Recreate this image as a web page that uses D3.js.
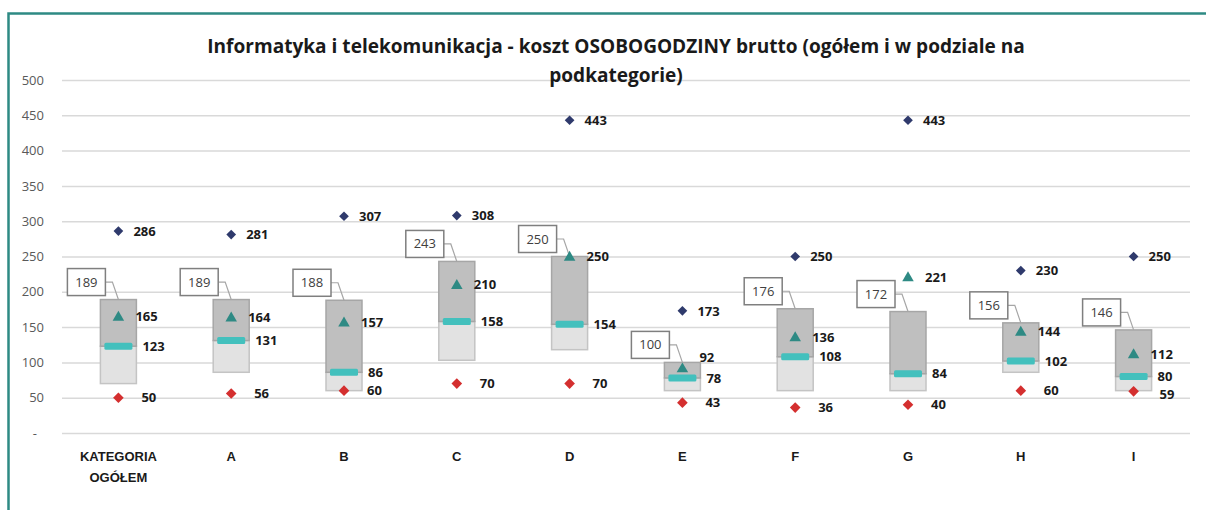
<!DOCTYPE html>
<html>
<head>
<meta charset="utf-8">
<script src="https://cdn.jsdelivr.net/npm/d3@7"></script>
<style>
  body { margin: 0; background: #fff; }
  svg { display: block; font-family: "Open Sans", sans-serif; }
</style>
</head>
<body>
<svg id="chart"></svg>
<script>
// values
const categories = ["KATEGORIA OGÓŁEM", "A", "B", "C", "D", "E", "F", "G", "H", "I"];
const maxValues = [286, 281, 307, 308, 443, 173, 250, 443, 230, 250];
const q3Values = [189, 189, 188, 243, 250, 100, 176, 172, 156, 146];
const avgValues = [165, 164, 157, 210, 250, 92, 136, 221, 144, 112];
const medianValues = [123, 131, 86, 158, 154, 78, 108, 84, 102, 80];
const q1Values = [70, 86, 60, 103, 118, 60, 60, 60, 86, 60];
const minValues = [50, 56, 60, 70, 70, 43, 36, 40, 60, 59];
const yTicks = [0, 50, 100, 150, 200, 250, 300, 350, 400, 450, 500];
const titleLines = ["Informatyka i telekomunikacja - koszt OSOBOGODZINY brutto (ogółem i w podziale na", "podkategorie)"];

const width = 1206, height = 510;
const margin = {top: 80, right: 16, bottom: 77, left: 62};

const svg = d3.select("#chart")
    .attr("width", width)
    .attr("height", height);

// frame (only top and left edge are inside the picture)
svg.append("path")
    .attr("d", `M8.5,${height} V13.5 H${width}`)
    .attr("fill", "none")
    .attr("stroke", "#2e8a84")
    .attr("stroke-width", 2.5);

const data = categories.map((c, i) => ({
    cat: c,
    max: maxValues[i],
    q3: q3Values[i],
    avg: avgValues[i],
    median: medianValues[i],
    q1: q1Values[i],
    min: minValues[i]
}));

const x = d3.scaleBand()
    .domain(categories)
    .range([margin.left, width - margin.right]);

const y = d3.scaleLinear()
    .domain([0, 500])
    .range([height - margin.bottom, margin.top]);

const cx = d => x(d.cat) + x.bandwidth() / 2;

// gridlines + y axis
const yAxis = d3.axisLeft(y)
    .tickValues(yTicks)
    .tickSize(-(width - margin.left - margin.right))
    .tickPadding(18)
    .tickFormat(d => d === 0 ? "-" : d);

const yAxisGroup = svg.append("g")
    .attr("transform", `translate(${margin.left},0)`)
    .call(yAxis);
yAxisGroup.select(".domain").remove();
yAxisGroup.selectAll(".tick line")
    .attr("stroke", "#d9d9d9")
    .attr("stroke-width", 1.5);
yAxisGroup.selectAll(".tick text")
    .attr("fill", "#595959")
    .attr("font-size", 13)
    .attr("font-family", "Open Sans, sans-serif")
    .filter(d => d === 0)
    .attr("x", -25);

// title (on top of the gridlines)
const title = svg.append("text")
    .attr("text-anchor", "middle")
    .attr("font-weight", "bold")
    .attr("font-size", 17)
    .attr("fill", "#1a1a1a");
title.selectAll("tspan")
    .data(titleLines)
    .join("tspan")
    .attr("x", 616)
    .attr("y", (d, i) => 53 + i * 29)
    .text(d => d);
// fit first line to the width it has in the original
const firstLen = title.select("tspan").node().getComputedTextLength();
title.attr("font-size", 17 * 818 / firstLen);

// x axis labels
const xAxis = d3.axisBottom(x).tickSize(0).tickPadding(0);
const xAxisGroup = svg.append("g")
    .attr("transform", `translate(0,${height - margin.bottom})`)
    .call(xAxis);
xAxisGroup.select(".domain").remove();
xAxisGroup.selectAll(".tick text").remove();
xAxisGroup.selectAll(".tick").append("text")
    .attr("text-anchor", "middle")
    .attr("font-weight", "bold")
    .attr("font-size", 13)
    .attr("fill", "#1a1a1a")
    .selectAll("tspan")
    .data(d => d.split(" "))
    .join("tspan")
    .attr("x", 0)
    .attr("y", (d, i) => 28 + i * 21)
    .text(d => d);

const boxW = 36;
const chart = svg.append("g");

// lower part of the box: q1 .. median
chart.selectAll(".box-low")
    .data(data)
    .join("rect")
    .attr("class", "box-low")
    .attr("x", d => cx(d) - boxW / 2)
    .attr("width", boxW)
    .attr("y", d => y(d.median))
    .attr("height", d => y(d.q1) - y(d.median))
    .attr("fill", "#e2e2e2")
    .attr("stroke", "#c4c4c4")
    .attr("stroke-width", 1.5);

// upper part: median .. q3
chart.selectAll(".box-high")
    .data(data)
    .join("rect")
    .attr("class", "box-high")
    .attr("x", d => cx(d) - boxW / 2)
    .attr("width", boxW)
    .attr("y", d => y(d.q3))
    .attr("height", d => y(d.median) - y(d.q3))
    .attr("fill", "#bfbfbf")
    .attr("stroke", "#a6a6a6")
    .attr("stroke-width", 1.5);

// q3 callouts
const calloutW = 38, calloutH = 27;
const calloutRight = d => cx(d) - 13;
const calloutBottom = d => y(d.q3) - 4;

chart.selectAll(".leader")
    .data(data)
    .join("path")
    .attr("class", "leader")
    .attr("d", d => {
        const ly = calloutBottom(d) - calloutH / 2;
        return `M${calloutRight(d)},${ly} h7 L${cx(d)},${y(d.q3)}`;
    })
    .attr("fill", "none")
    .attr("stroke", "#a6a6a6")
    .attr("stroke-width", 1.2);

chart.selectAll(".callout")
    .data(data)
    .join("rect")
    .attr("class", "callout")
    .attr("x", d => calloutRight(d) - calloutW)
    .attr("y", d => calloutBottom(d) - calloutH)
    .attr("width", calloutW)
    .attr("height", calloutH)
    .attr("fill", "#fff")
    .attr("stroke", "#7f7f7f")
    .attr("stroke-width", 1.5);

chart.selectAll(".callout-text")
    .data(data)
    .join("text")
    .attr("class", "callout-text")
    .attr("x", d => calloutRight(d) - calloutW / 2)
    .attr("y", d => calloutBottom(d) - calloutH / 2)
    .attr("dy", "0.35em")
    .attr("text-anchor", "middle")
    .attr("font-size", 13)
    .attr("fill", "#404040")
    .text(d => d.q3);

// markers
const diamond = d3.symbol().type(d3.symbolDiamond2);
const triangle = d3.symbol().type(d3.symbolTriangle2);

chart.selectAll(".median")
    .data(data)
    .join("rect")
    .attr("class", "median")
    .attr("x", d => cx(d) - 14)
    .attr("y", d => y(d.median) - 3.5)
    .attr("width", 28)
    .attr("height", 7)
    .attr("rx", 1.5)
    .attr("fill", "#43c0bd");

chart.selectAll(".avg")
    .data(data)
    .join("path")
    .attr("class", "avg")
    .attr("d", triangle.size(95)())
    .attr("transform", d => `translate(${cx(d)},${y(d.avg) + 1})`)
    .attr("fill", "#2e8a84");

chart.selectAll(".max")
    .data(data)
    .join("path")
    .attr("class", "max")
    .attr("d", diamond.size(60)())
    .attr("transform", d => `translate(${cx(d)},${y(d.max)})`)
    .attr("fill", "#2f3a6c");

chart.selectAll(".min")
    .data(data)
    .join("path")
    .attr("class", "min")
    .attr("d", diamond.size(72)())
    .attr("transform", d => `translate(${cx(d)},${y(d.min)})`)
    .attr("fill", "#d42f2f");

// value labels
const labelSpecs = [
    {key: "max", dx: 15},
    {key: "avg", dx: 17},
    {key: "median", dx: 24},
    {key: "min", dx: 23}
];

labelSpecs.forEach(spec => {
    chart.selectAll(".lbl-" + spec.key)
        .data(data)
        .join("text")
        .attr("class", "lbl-" + spec.key)
        .attr("x", d => {
            let lx = cx(d) + spec.dx;
            if (spec.key === "min" && Math.abs(y(d.min) - y(d.median)) < 18) lx = cx(d) + 26;
            return lx;
        })
        .attr("y", d => {
            let ly = y(d[spec.key]);
            // push the mean label up when it would sit on the median label
            if (spec.key === "avg" && Math.abs(y(d.avg) - y(d.median)) < 14) {
                ly = y(d.median) - 21;
            }
            // and the minimum label down when it crowds the median label
            if (spec.key === "min" && Math.abs(y(d.min) - y(d.median)) < 18) {
                ly = y(d.median) + 18;
            }
            return ly;
        })
        .attr("dy", "0.36em")
        .attr("font-size", 13)
        .attr("font-weight", "bold")
        .attr("fill", "#1a1a1a")
        .text(d => d[spec.key]);
});
</script>
</body>
</html>
